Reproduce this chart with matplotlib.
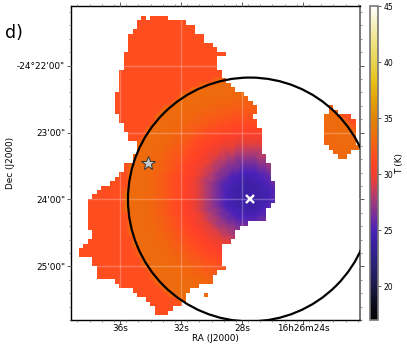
import numpy as np
import matplotlib
matplotlib.use('Agg')
import matplotlib.pyplot as plt
from matplotlib.colors import LinearSegmentedColormap, ListedColormap, Normalize
from matplotlib.patches import Ellipse

# map cells are 4 arcsec; each row lists [start, stop) column runs
rows = [
    [(14, 15), (16, 20)], [(13, 24)], [(13, 26)], [(12, 26)], [(11, 28)], [(11, 28)],
    [(11, 30)], [(11, 31)], [(10, 33)], [(10, 31)], [(10, 31)], [(10, 31)],
    [(9, 32)], [(9, 32)], [(9, 33)], [(9, 34)], [(9, 35)], [(8, 37)],
    [(8, 38)], [(8, 39)], [(8, 40), (56, 57)], [(8, 40), (56, 58)], [(9, 39), (55, 61)], [(9, 40), (55, 62)],
    [(10, 40), (55, 62)], [(10, 41), (55, 62)], [(11, 41), (55, 62)], [(11, 41), (55, 62)], [(13, 41), (55, 62)], [(13, 41), (56, 63)],
    [(13, 41), (57, 61)], [(12, 42), (58, 60)], [(12, 42)], [(10, 43)], [(10, 43)], [(9, 43)],
    [(8, 43)], [(7, 44)], [(5, 44)], [(4, 44)], [(3, 44)], [(2, 44)],
    [(2, 43)], [(2, 42)], [(2, 42)], [(2, 42)], [(2, 38)], [(2, 36)],
    [(3, 35)], [(3, 35)], [(2, 34)], [(1, 32)], [(0, 32)], [(0, 32)],
    [(3, 32)], [(3, 32)], [(4, 33)], [(4, 31)], [(4, 30)], [(8, 30)],
    [(9, 27)], [(12, 25)], [(13, 24), (28, 29)], [(15, 24)], [(16, 23)], [(17, 21)],
    [(17, 20)],
]
# temperature in 4 arcsec rings around the cold spot
ring_temps = [24.2, 24.2, 24.2, 24.4, 24.8, 25.3, 26.0, 26.7, 27.4, 28.1, 28.8, 29.4, 29.9, 30.3,
              30.7, 31.1, 31.4, 31.8, 32.1, 32.4, 32.6, 32.8, 33.0, 33.1, 33.2, 33.2, 33.2, 33.2]
outer_temp = 31.5

map_left, map_top = 38.71, 21.261
cell_ra, cell_dec = 0.2925, 0.0666
n_cols = 63

center_ra, center_dec = 27.48, 24.0
star_ra, star_dec = 34.16, 23.46

ra_ticks = [36, 32, 28, 24]
ra_labels = ['36s', '32s', '28s', '16h26m24s']
dec_ticks = [22, 23, 24, 25]
dec_labels = ['-24°22\'00"', '23\'00"', '24\'00"', '25\'00"']
cbar_ticks = [20, 25, 30, 35, 40, 45]

cmap_temps = [17, 18.5, 20, 22, 24, 25, 26.5, 28, 29.5, 30.5, 31.5, 33, 35, 37, 38.5, 40, 42, 43.5, 45]
cmap_cols = ['#000000', '#0c0c1e', '#1a1a48', '#2a2278', '#3c20a4', '#4c22b8', '#7c3098', '#b03c70',
             '#e84038', '#ff4028', '#ff4d20', '#f0680e', '#e08406', '#e5a80a', '#e8c41c', '#e8d450',
             '#efe488', '#f6f2c4', '#ffffff']

n_rows = len(rows)
inside = np.zeros((n_rows, n_cols), dtype=bool)
for i, runs in enumerate(rows):
    for a, b in runs:
        inside[i, a:b] = True

# circle centre in cell units, circle radius 109.5 arcsec, rings centred on the cold spot
xc = (map_left - center_ra) / cell_ra
yc = (center_dec - map_top) / cell_dec
temp = np.full((n_rows, n_cols), outer_temp)
for i in range(n_rows):
    for j in range(n_cols):
        if np.hypot(j + 0.5 - xc, i + 0.5 - yc) * 4 < 112:
            d = np.hypot(j + 0.5 - (xc - 0.6), i + 0.5 - (yc - 1)) * 4
            temp[i, j] = ring_temps[min(int(d / 4), len(ring_temps) - 1)]

cmap = LinearSegmentedColormap.from_list(
    'temp', [((t - 17) / 28, c) for t, c in zip(cmap_temps, cmap_cols)], N=512)
norm = Normalize(17, 45)

W, H = 407, 349
fig = plt.figure(figsize=(W / 100, H / 100), dpi=100)
ax = fig.add_axes([70.5 / W, 1 - 320 / H, 289.5 / W, 314 / H])

extent = [map_left, map_left - n_cols * cell_ra, map_top + n_rows * cell_dec, map_top]
im = ax.imshow(temp, cmap=cmap, norm=norm, extent=extent,
               aspect='auto', interpolation='bilinear', zorder=1)
# blank the cells off the map with a white layer so the edges stay stepped
ax.imshow(np.ma.masked_where(inside, np.ones_like(temp)), cmap=ListedColormap(['white']),
          extent=extent, aspect='auto', interpolation='nearest', zorder=1.5)
ax.set_xlim(39.25, 20.26)
ax.set_ylim(25.8, 21.11)

ax.set_xticks(ra_ticks)
ax.set_xticklabels(ra_labels)
ax.set_yticks(dec_ticks)
ax.set_yticklabels(dec_labels)
ax.set_xticks(np.arange(20.4, 39.2, 0.8), minor=True)
ax.set_yticks(np.arange(21.2, 25.8, 0.2), minor=True)
ax.tick_params(which='major', labelsize=6.4, length=3, width=0.6, top=True, right=True, pad=1,
               color='#444444')
ax.tick_params(which='minor', length=1.5, width=0.5, top=True, right=True, color='#666666')
ax.tick_params(axis='x', which='major', pad=0)
ax.grid(which='major', color='white', alpha=0.25, lw=1, zorder=2)
ax.set_axisbelow(False)
ax.set_xlabel('RA (J2000)', fontsize=6.4, labelpad=0.5)
ax.set_ylabel('Dec (J2000)', fontsize=6.4, labelpad=1)
for s in ax.spines.values():
    s.set_linewidth(1)
ax.spines['right'].set_color('#777777')
ax.spines['right'].set_linewidth(1.4)

ax.add_patch(Ellipse((center_ra, center_dec), 2 * 122 / 15.25, 2 * 122 / 67, fc='none', ec='black',
                     lw=1.6, zorder=5))
ax.plot([center_ra], [center_dec], marker='x', ms=5.5, mew=1.7, color='white', zorder=6)
ax.plot([star_ra], [star_dec], marker='*', ms=10, mfc='#c8c8c8', mec='#333333', mew=0.7, zorder=6)

fig.text(4.5 / W, 1 - 38 / H, 'd)', fontsize=12.5)

cax = fig.add_axes([369.5 / W, 1 - 320 / H, 8.5 / W, 314 / H])
cb = fig.colorbar(im, cax=cax, ticks=cbar_ticks)
cb.outline.set_edgecolor('#777777')
cb.outline.set_linewidth(1.2)
cb.ax.tick_params(labelsize=5.5, length=2.5, width=0.6, pad=1.5, color='#444444')
cb.set_label('T (K)', fontsize=6.4, labelpad=1)

fig.savefig('out.png', dpi=100)
